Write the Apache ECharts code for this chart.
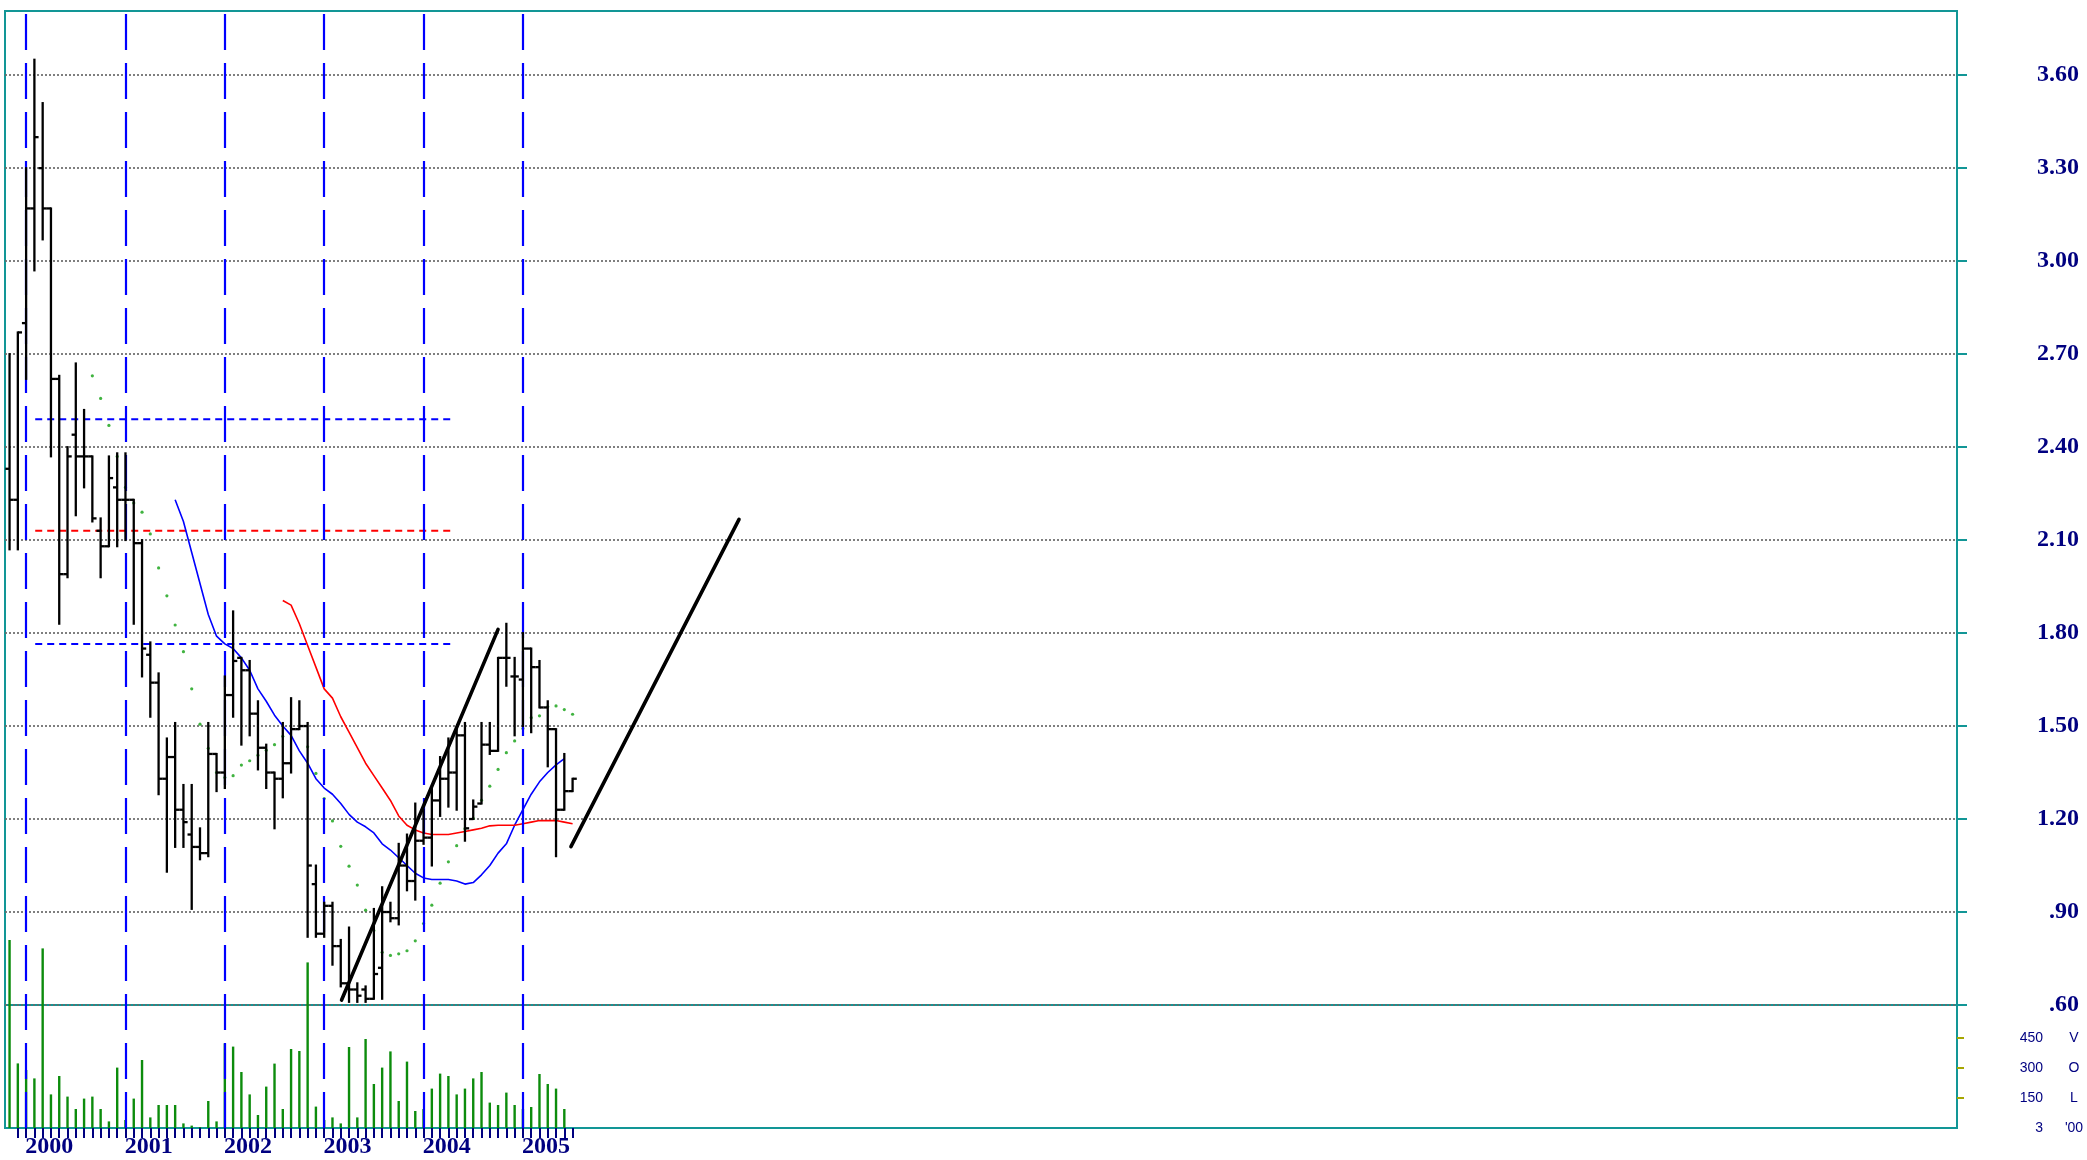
<!DOCTYPE html>
<html><head><meta charset="utf-8">
<script src="https://cdn.jsdelivr.net/npm/echarts@6/dist/echarts.min.js"></script>
<style>html,body{margin:0;padding:0;background:#fff}#c{width:2087px;height:1160px}</style>
</head><body><div id="c"></div>
<script>
// month index: 0 = January 2000
const barMonths = [-2,-1,0,1,2,3,4,5,6,7,8,9,10,11,12,13,14,15,16,17,18,19,20,21,22,23,24,25,26,27,28,29,30,31,32,33,34,35,36,37,38,39,40,41,42,43,44,45,46,47,48,49,50,51,52,53,54,55,56,57,58,59,60,61,62,63,64,65,66];
const opens  = [2.33,2.23,2.80,3.17,3.30,3.17,2.62,1.99,2.44,2.37,2.37,2.13,2.08,2.27,2.23,2.23,2.09,1.73,1.64,1.33,1.40,1.23,1.15,1.11,1.09,1.41,1.35,1.60,1.72,1.68,1.54,1.43,1.35,1.33,1.38,1.49,1.50,0.99,0.83,0.92,0.79,0.67,0.65,0.65,0.62,0.72,0.90,0.88,1.05,1.00,1.13,1.14,1.26,1.33,1.35,1.47,1.20,1.25,1.44,1.42,1.72,1.66,1.65,1.75,1.69,1.56,1.49,1.23,1.29];
const highs  = [2.70,2.77,3.30,3.65,3.51,3.17,2.63,2.40,2.67,2.52,2.37,2.17,2.37,2.38,2.38,2.23,2.10,1.77,1.67,1.46,1.51,1.31,1.31,1.17,1.51,1.41,1.66,1.87,1.72,1.71,1.58,1.44,1.35,1.51,1.59,1.58,1.51,1.05,0.93,0.93,0.81,0.85,0.67,0.66,0.91,0.98,0.93,1.12,1.15,1.25,1.23,1.30,1.40,1.46,1.49,1.51,1.26,1.51,1.51,1.72,1.83,1.72,1.80,1.75,1.71,1.58,1.49,1.41,1.33];
const lows   = [2.07,2.07,2.62,2.97,3.07,2.37,1.83,1.98,2.18,2.27,2.16,1.98,2.08,2.08,2.10,1.83,1.66,1.53,1.28,1.03,1.11,1.11,0.91,1.07,1.08,1.29,1.30,1.53,1.44,1.47,1.36,1.30,1.17,1.27,1.35,1.49,0.82,0.82,0.82,0.73,0.66,0.61,0.61,0.61,0.62,0.62,0.87,0.86,0.97,0.94,1.12,1.05,1.21,1.24,1.23,1.13,1.20,1.25,1.41,1.42,1.63,1.47,1.50,1.48,1.56,1.37,1.08,1.23,1.29];
const closes = [2.23,2.77,3.17,3.40,3.17,2.62,1.99,2.37,2.37,2.37,2.17,2.08,2.30,2.23,2.23,2.09,1.75,1.64,1.33,1.40,1.23,1.19,1.11,1.09,1.41,1.35,1.60,1.71,1.68,1.54,1.43,1.35,1.33,1.38,1.49,1.50,1.05,0.83,0.92,0.79,0.67,0.65,0.63,0.62,0.70,0.90,0.88,1.05,1.00,1.13,1.14,1.26,1.33,1.35,1.47,1.17,1.24,1.44,1.42,1.72,1.72,1.66,1.75,1.69,1.56,1.49,1.23,1.29,1.33];

// volume, hundreds (months -2 .. 65)
const volMonths = [-2,-1,0,1,2,3,4,5,6,7,8,9,10,11,12,13,14,15,16,17,18,19,20,21,22,23,24,25,26,27,28,29,30,31,32,33,34,35,36,37,38,39,40,41,42,43,44,45,46,47,48,49,50,51,52,53,54,55,56,57,58,59,60,61,62,63,64,65];
const volumes = [940,323,290,248,898,168,260,157,95,147,157,95,33,302,40,147,340,53,115,115,115,23,12,5,135,33,423,407,280,168,65,207,322,95,395,385,828,107,40,53,23,405,53,445,220,302,383,135,332,85,95,197,272,260,168,197,248,280,127,115,177,115,95,105,270,220,197,95];

// blue moving average (months 18 .. 65)
const blueMaMonths = [18,19,20,21,22,23,24,25,26,27,28,29,30,31,32,33,34,35,36,37,38,39,40,41,42,43,44,45,46,47,48,49,50,51,52,53,54,55,56,57,58,59,60,61,62,63,64,65];
const blueMa = [2.23,2.16,2.06,1.96,1.86,1.79,1.765,1.75,1.72,1.68,1.62,1.58,1.535,1.50,1.47,1.42,1.38,1.33,1.30,1.28,1.25,1.215,1.19,1.175,1.155,1.12,1.10,1.075,1.05,1.025,1.01,1.005,1.005,1.005,1.00,0.99,0.995,1.02,1.05,1.09,1.12,1.18,1.23,1.28,1.32,1.35,1.375,1.395];

// red moving average (months 31 .. 66)
const redMaMonths = [31,32,33,34,35,36,37,38,39,40,41,42,43,44,45,46,47,48,49,50,51,52,53,54,55,56,57,58,59,60,61,62,63,64,65,66];
const redMa = [1.905,1.89,1.83,1.76,1.69,1.62,1.59,1.53,1.48,1.43,1.38,1.34,1.30,1.26,1.21,1.18,1.165,1.155,1.15,1.15,1.15,1.155,1.16,1.165,1.17,1.178,1.18,1.18,1.18,1.185,1.19,1.195,1.195,1.195,1.19,1.185];

// green dotted indicator
const dotMonths = [8,9,10,11,12,13,14,15,16,17,18,19,20,21,22,23,24,25,26,27,28,29,30,31,34,35,36,37,38,39,40,41,42,43,44,45,46,47,48,49,50,51,52,53,54,55,56,57,58,59,60,61,62,63,64,65,66];
const dotValues = [2.63,2.557,2.47,2.37,2.27,2.22,2.19,2.12,2.01,1.92,1.826,1.74,1.62,1.506,1.428,1.35,1.334,1.34,1.374,1.388,1.406,1.422,1.44,1.467,1.433,1.347,1.266,1.194,1.112,1.048,0.987,0.906,0.84,0.77,0.76,0.765,0.775,0.807,0.863,0.922,0.993,1.062,1.114,1.169,1.202,1.261,1.306,1.36,1.414,1.452,1.492,1.527,1.533,1.562,1.565,1.553,1.538];

// trend lines [month, price]
const trendLine1 = [[38.1,0.616],[57.0,1.812]];
const trendLine2 = [[65.8,1.111],[86.1,2.167]];

// horizontal dashed levels
const levelMonths = [1.1, 51.3];
const levelBlueHigh = 2.49;
const levelRed = 2.13;
const levelBlueLow = 1.765;

// axes
const years = ['2000','2001','2002','2003','2004','2005'];
const yearLineMonths = [0,12,24,36,48,60];
const priceTicks = [0.6,0.9,1.2,1.5,1.8,2.1,2.4,2.7,3.0,3.3,3.6];
const volTickValues = [0,150,300,450];
const volTickLabels = ['3','150','300','450'];
const volUnitLabels = ["'00",'L','O','V'];

const NAVY = '#000080';
const TEAL = '#129696';
const X_MIN = -2.55, X_MAX = 233.2;
const yearLabelPos = years.map((y, i) => i * 12 + 2.8);
const monthTicks = [];
for (let m = -1; m <= 66; m++) monthTicks.push(m);

const ohlcData = barMonths.map((m, i) => [m, opens[i], highs[i], lows[i], closes[i]]);

function renderOHLC(params, api) {
  const x = api.value(0);
  const pO = api.coord([x, api.value(1)]);
  const pH = api.coord([x, api.value(2)]);
  const pL = api.coord([x, api.value(3)]);
  const pC = api.coord([x, api.value(4)]);
  const t = 4.2;
  const st = { stroke: '#000', lineWidth: 2.3 };
  return { type: 'group', children: [
    { type: 'line', shape: { x1: pH[0], y1: pH[1] - 1, x2: pL[0], y2: pL[1] + 1 }, style: st },
    { type: 'line', shape: { x1: pO[0] - t, y1: pO[1], x2: pO[0], y2: pO[1] }, style: st },
    { type: 'line', shape: { x1: pC[0], y1: pC[1], x2: pC[0] + t, y2: pC[1] }, style: st }
  ]};
}

function levelSeries(v, color) {
  return {
    type: 'line', xAxisIndex: 0, yAxisIndex: 0, symbol: 'none', silent: true, z: 3,
    data: levelMonths.map(m => [m, v]),
    lineStyle: { color: color, width: 2, type: [7, 5] }
  };
}

const chart = echarts.init(document.getElementById('c'), null, { renderer: 'canvas' });
chart.setOption({
  backgroundColor: '#ffffff',
  animation: false,
  grid: [
    { left: 5, right: 130, top: 11, bottom: 155, show: true, borderColor: TEAL, borderWidth: 2, backgroundColor: 'transparent' },
    { left: 5, right: 130, top: 1005, bottom: 32, show: true, borderColor: TEAL, borderWidth: 2, backgroundColor: 'transparent' },
    { left: 5, right: 130, top: 11, bottom: 32, show: false }
  ],
  xAxis: [
    { type: 'value', gridIndex: 0, min: X_MIN, max: X_MAX, show: false, axisLine: { onZero: false } },
    { type: 'value', gridIndex: 1, min: X_MIN, max: X_MAX,
      axisLine: { show: false, onZero: false },
      splitLine: { show: false },
      axisTick: { show: true, customValues: monthTicks, length: 10, lineStyle: { color: NAVY, width: 2 } },
      axisLabel: { show: true, customValues: yearLabelPos, margin: 7,
        formatter: v => years[Math.round((v - 2.8) / 12)] || '',
        color: NAVY, fontSize: 24, fontWeight: 'bold', fontFamily: 'Liberation Serif' } },
    { type: 'value', gridIndex: 2, min: X_MIN, max: X_MAX, show: false, axisLine: { onZero: false } }
  ],
  yAxis: [
    { type: 'value', gridIndex: 0, position: 'right', min: 0.6, max: 3.807,
      axisLine: { show: false, onZero: false },
      axisTick: { show: true, customValues: priceTicks, length: 10, lineStyle: { color: TEAL, width: 2 } },
      splitLine: { show: true, lineStyle: { color: '#6a6a6a', width: 1.7, type: [2, 2] } },
      axisLabel: { show: true, customValues: priceTicks, align: 'right', margin: 122,
        formatter: v => v.toFixed(2).replace(/^0/, ''),
        color: NAVY, fontSize: 24, fontWeight: 'bold', fontFamily: 'Liberation Serif' } },
    { type: 'value', gridIndex: 1, position: 'right', min: 0, max: 615,
      axisLine: { show: false, onZero: false },
      splitLine: { show: false },
      axisTick: { show: true, customValues: [150, 300, 450], length: 7, lineStyle: { color: '#a6a600', width: 2 } },
      axisLabel: { show: true, customValues: volTickValues, align: 'right', margin: 86,
        formatter: v => { const i = volTickValues.indexOf(v); return i < 0 ? '' : volTickLabels[i]; },
        color: NAVY, fontSize: 14, fontFamily: 'Liberation Sans' } },
    { type: 'value', gridIndex: 2, min: 0, max: 1, show: false, axisLine: { onZero: false } },
    { type: 'value', gridIndex: 1, position: 'right', min: 0, max: 615,
      axisLine: { show: false, onZero: false }, splitLine: { show: false }, axisTick: { show: false },
      axisLabel: { show: true, customValues: volTickValues, align: 'center', margin: 117,
        formatter: v => { const i = volTickValues.indexOf(v); return i < 0 ? '' : volUnitLabels[i]; },
        color: NAVY, fontSize: 14, fontFamily: 'Liberation Sans' } }
  ],
  series: [
    { type: 'line', xAxisIndex: 2, yAxisIndex: 2, data: [], silent: true, z: 2,
      markLine: { silent: true, symbol: ['none', 'none'], label: { show: false },
        lineStyle: { color: '#0000ff', width: 2.2, type: [36, 13] },
        data: yearLineMonths.map(m => ({ xAxis: m })) } },
    { type: 'bar', xAxisIndex: 1, yAxisIndex: 1, barWidth: 2.4, clip: false, z: 3,
      itemStyle: { color: '#0c8c0c' },
      data: volMonths.map((m, i) => [m, volumes[i]]) },
    levelSeries(levelBlueHigh, '#0000ff'),
    levelSeries(levelRed, '#ff0000'),
    levelSeries(levelBlueLow, '#0000ff'),
    { type: 'scatter', xAxisIndex: 0, yAxisIndex: 0, symbolSize: 3.2, z: 4,
      itemStyle: { color: '#10a010' },
      data: dotMonths.map((m, i) => [m, dotValues[i]]) },
    { type: 'line', xAxisIndex: 0, yAxisIndex: 0, symbol: 'none', z: 4,
      lineStyle: { color: '#0000ff', width: 1.6 },
      data: blueMaMonths.map((m, i) => [m, blueMa[i]]) },
    { type: 'line', xAxisIndex: 0, yAxisIndex: 0, symbol: 'none', z: 4,
      lineStyle: { color: '#ff0000', width: 1.6 },
      data: redMaMonths.map((m, i) => [m, redMa[i]]) },
    { type: 'custom', xAxisIndex: 0, yAxisIndex: 0, z: 5,
      renderItem: renderOHLC,
      encode: { x: 0, y: [1, 2, 3, 4] },
      data: ohlcData },
    { type: 'line', xAxisIndex: 0, yAxisIndex: 0, symbol: 'none', z: 6,
      lineStyle: { color: '#000', width: 3.6, cap: 'round' }, data: trendLine1 },
    { type: 'line', xAxisIndex: 0, yAxisIndex: 0, symbol: 'none', z: 6,
      lineStyle: { color: '#000', width: 3.6, cap: 'round' }, data: trendLine2 }
  ]
});
</script></body></html>
